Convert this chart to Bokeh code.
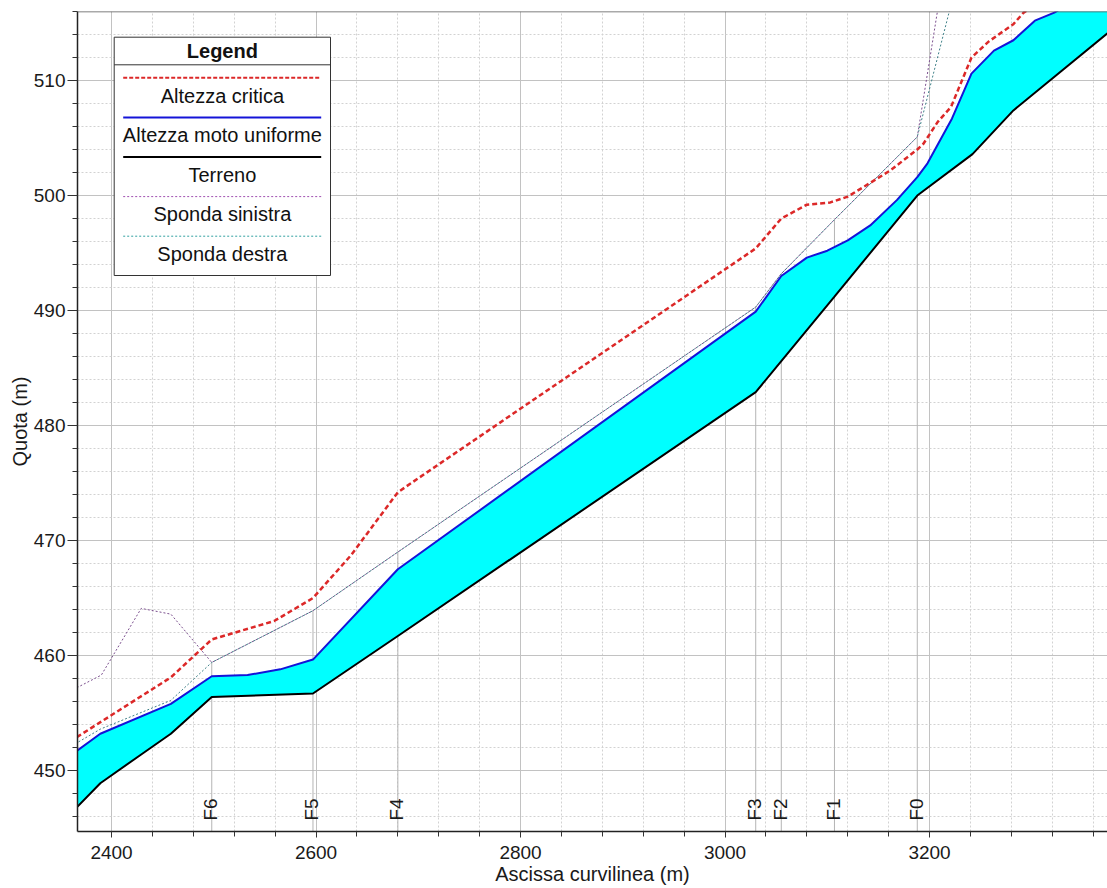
import math
from bokeh.plotting import figure
from bokeh.models import Range1d, SingleIntervalTicker, Span
from bokeh.embed import file_html
from bokeh.resources import INLINE
from bokeh.core.properties import value

# ---------------- data ----------------
terrain_x = [2366, 2389, 2429, 2458, 2498, 2597, 2680, 3030, 3055, 3107, 3188, 3242, 3282, 3374]
terrain_y = [446.8, 448.9, 451.4, 453.2, 456.4, 456.7, 461.7, 482.9, 485.6, 491.2, 500.0, 503.6, 507.4, 514.1]

uniform_x = [2366, 2389, 2458, 2498, 2533, 2565, 2597, 2680, 3030, 3055, 3080, 3100, 3120, 3142,
             3168, 3188, 3198, 3222, 3241, 3263, 3282, 3303, 3322, 3380]
uniform_y = [451.7, 453.2, 455.8, 458.2, 458.3, 458.8, 459.65, 467.5, 489.9, 493.0, 494.6, 495.2, 496.1, 497.4,
             499.6, 501.6, 502.8, 506.7, 510.6, 512.6, 513.5, 515.2, 515.9, 519.0]

critical_x = [2366, 2458, 2498, 2559, 2597, 2634, 2680, 3030, 3055, 3080, 3103, 3120, 3142, 3162,
              3188, 3194, 3208, 3221, 3241, 3258, 3282, 3292, 3310]
critical_y = [452.9, 458.1, 461.4, 463.0, 465.0, 468.7, 474.2, 495.4, 498.0, 499.2, 499.4, 499.9, 501.1, 502.2,
              504.0, 504.5, 506.4, 507.7, 512.0, 513.4, 514.9, 515.9, 517.0]

left_bank_x = [2366, 2390, 2429, 2458, 2498, 2597, 2680, 3030, 3055, 3107, 3188, 3242]
left_bank_y = [457.2, 458.3, 464.1, 463.6, 459.4, 463.9, 469.0, 490.3, 493.2, 497.9, 505.1, 535.0]

right_bank_x = [2366, 2389, 2458, 2498, 2597, 2680, 3030, 3055, 3107, 3188, 3242]
right_bank_y = [452.4, 453.6, 456.1, 459.4, 463.9, 469.0, 490.3, 493.2, 497.9, 505.1, 523.9]

section_names = ["F6", "F5", "F4", "F3", "F2", "F1", "F0"]
section_x = [2498, 2597, 2680, 3030, 3055, 3107, 3188]
section_top = [459.4, 463.9, 469.0, 490.3, 493.2, 497.9, 505.1]

legend_title = "Legend"
legend_labels = ["Altezza critica", "Altezza moto uniforme", "Terreno", "Sponda sinistra", "Sponda destra"]

x_label = "Ascissa curvilinea (m)"
y_label = "Quota (m)"

# ---------------- layout ----------------
W, H = 1107, 888
MBL, MBR, MBT, MBB = 77, 0, 11, 57
FW = W - MBL - MBR
FH = H - MBT - MBB
X0 = 2366.7
X1 = X0 + FW / 1.0225
Y0, Y1 = 444.7, 516.0
FONT = "Liberation Sans"


def sx(px):
    """page pixel -> data x"""
    return X0 + (px - MBL) / FW * (X1 - X0)


def sy(py):
    """page pixel -> data y"""
    return Y1 - (py - MBT) / FH * (Y1 - Y0)


dx_per_px = (X1 - X0) / FW
dy_per_px = (Y1 - Y0) / FH

p = figure(width=W, height=H, x_range=Range1d(X0, X1), y_range=Range1d(Y0, Y1),
           output_backend="svg", toolbar_location=None,
           min_border_left=MBL, min_border_right=MBR, min_border_top=MBT, min_border_bottom=MBB)
p.outline_line_color = None
p.background_fill_color = "white"
p.border_fill_color = "white"

xt = SingleIntervalTicker(interval=200, num_minor_ticks=5)
yt = SingleIntervalTicker(interval=10, num_minor_ticks=5)
p.xaxis.ticker = xt
p.yaxis.ticker = yt
p.xgrid.ticker = xt
p.ygrid.ticker = yt

for g in (p.xgrid, p.ygrid):
    g.grid_line_color = "#c2c2c2"
    g.grid_line_width = 1
    g.minor_grid_line_color = "#d2d2d2"
    g.minor_grid_line_dash = "2 2"
    g.minor_grid_line_width = 1

for ax in (p.xaxis, p.yaxis):
    ax.axis_line_color = "#222222"
    ax.axis_line_width = 1.5
    ax.major_tick_line_color = "#333333"
    ax.minor_tick_line_color = "#333333"
    ax.major_tick_in = 0
    ax.minor_tick_in = 0
    ax.major_label_text_font = FONT
    ax.major_label_text_font_size = "19px"
    ax.major_label_text_color = "#1a1a1a"
    ax.axis_label_text_font = FONT
    ax.axis_label_text_font_size = "20px"
    ax.axis_label_text_font_style = "normal"
    ax.axis_label_text_color = "#1a1a1a"

p.xaxis.axis_label = x_label
p.yaxis.axis_label = y_label
p.xaxis.major_tick_out = 6
p.xaxis.minor_tick_out = 5
p.yaxis.major_tick_out = 10
p.yaxis.minor_tick_out = 5
p.xaxis.major_label_standoff = 8
p.yaxis.major_label_standoff = 2
p.xaxis.axis_label_standoff = 1
p.yaxis.axis_label_standoff = 0

p.add_layout(Span(location=Y1, dimension="width", line_color="#555555", line_width=1.5))

# section lines (behind the fill)
p.segment(x0=section_x, y0=[Y0] * len(section_x), x1=section_x, y1=section_top,
          line_color="#b4b4b4", line_width=1)

# water fill between terrain and uniform-flow level
p.patch(x=uniform_x + terrain_x[::-1], y=uniform_y + terrain_y[::-1],
        fill_color="#00ffff", line_color=None)

p.line(left_bank_x, left_bank_y, line_color="#7b4f8e", line_width=1, line_dash="2 2")
p.line(right_bank_x, right_bank_y, line_color="#3f8088", line_width=1, line_dash="2 2", line_dash_offset=2)
p.line(terrain_x, terrain_y, line_color="#000000", line_width=2)
p.line(uniform_x, uniform_y, line_color="#1414d8", line_width=2)
p.line(critical_x, critical_y, line_color="#dc2828", line_width=2.5, line_dash="5 3")

# section labels
p.text(x=[sx_ - 1 * dx_per_px for sx_ in section_x],
       y=[Y0 + 11 * dy_per_px] * len(section_x), text=section_names,
       angle=math.pi / 2, text_align="left", text_baseline="alphabetic",
       text_font=value(FONT), text_font_size=value("19px"), text_color="#1a1a1a")

# ---------------- legend box ----------------
LL, LR, LT, LB = 113.7, 330.0, 36.7, 275.0
p.quad(left=[sx(LL)], right=[sx(LR)], top=[sy(LT)], bottom=[sy(LB)],
       fill_color="white", line_color="#333333", line_width=1)
p.line([sx(LL), sx(LR)], [sy(64.3), sy(64.3)], line_color="#333333", line_width=1)
lx = (LL + LR) / 2
p.text(x=[sx(lx)], y=[sy(50.5)], text=[legend_title], text_align="center", text_baseline="middle",
       text_font=value(FONT), text_font_size=value("20px"), text_font_style="bold", text_color="#111111")

styles = [
    dict(line_color="#dc2828", line_width=2, line_dash="4 2"),
    dict(line_color="#1414d8", line_width=2),
    dict(line_color="#000000", line_width=2),
    dict(line_color="#a050b0", line_width=1, line_dash="2 2"),
    dict(line_color="#30a0a0", line_width=1, line_dash="2 2"),
]
step = 39.6
for i, (lab, st) in enumerate(zip(legend_labels, styles)):
    ly = 77.3 + step * i
    ty = 95.0 + step * i
    p.line([sx(122.7), sx(320.7)], [sy(ly), sy(ly)], **st)
    p.text(x=[sx(lx)], y=[sy(ty)], text=[lab], text_align="center", text_baseline="middle",
           text_font=value(FONT), text_font_size=value("20px"), text_color="#111111")

open("out.html", "w").write(file_html(p, INLINE))
